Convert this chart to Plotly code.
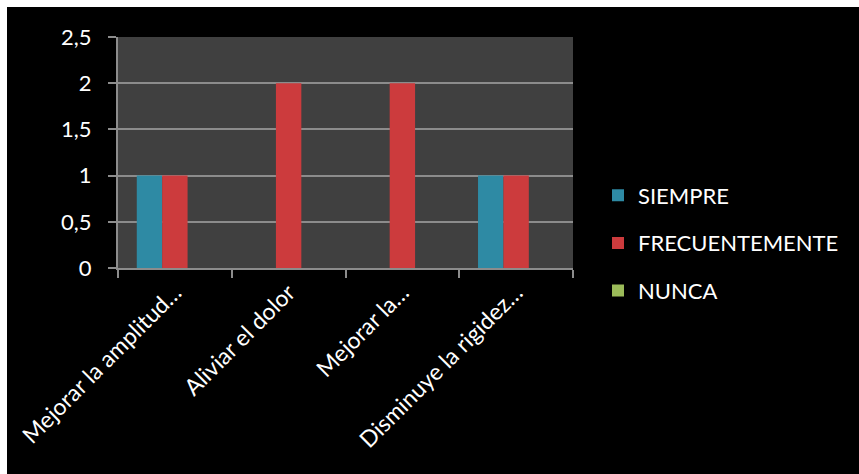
import plotly.graph_objects as go

categories = ["Mejorar la amplitud…", "Aliviar el dolor", "Mejorar la…", "Disminuye la rigidez…"]
siempre = [1, 0, 0, 1]
frecuentemente = [1, 2, 2, 1]
nunca = [0, 0, 0, 0]
series_names = ["SIEMPRE", "FRECUENTEMENTE", "NUNCA"]
series_colors = ["#2E8AA4", "#CC3B3D", "#9BBB59"]
y_ticks = [0, 0.5, 1, 1.5, 2, 2.5]
y_tick_labels = ["0", "0,5", "1", "1,5", "2", "2,5"]

W, H = 859, 474
L, R, T, B = 118, 286, 37, 206
PW, PH = W - L - R, H - T - B

fig = go.Figure()
for name, vals, col in zip(series_names, [siempre, frecuentemente, nunca], series_colors):
    fig.add_trace(go.Bar(
        x=categories, y=vals, name=name, legendgroup=name,
        marker=dict(color=col, line=dict(width=0)),
    ))

font_family = "Lato, 'Open Sans', sans-serif"
fig.update_layout(
    width=W, height=H,
    margin=dict(l=L, r=R, t=T, b=B, autoexpand=False),
    paper_bgcolor="black",
    plot_bgcolor="#404040",
    barmode="group",
    bargap=0.33,
    bargroupgap=0,
    font=dict(family=font_family, color="white", size=20),
    showlegend=True,
    legend=dict(
        x=(598 - L) / PW, xanchor="left",
        y=(H - B - 243) / PH, yanchor="middle",
        font=dict(size=22, color="white"),
        bgcolor="rgba(0,0,0,0)",
        tracegroupgap=16,
        itemwidth=30,
    ),
    xaxis=dict(
        type="category",
        tickangle=-45,
        tickson="boundaries",
        ticks="outside", ticklen=8, tickcolor="#8C8C8C", tickwidth=2,
        showline=True, linecolor="#8C8C8C", linewidth=2,
        showgrid=False,
        tickfont=dict(size=23, color="white"),
    ),
    yaxis=dict(
        range=[0, 2.5],
        tickvals=y_ticks, ticktext=y_tick_labels,
        ticks="outside", ticklen=8, tickcolor="#8C8C8C", tickwidth=2,
        showline=True, linecolor="#8C8C8C", linewidth=2,
        showgrid=True, gridcolor="#8C8C8C", gridwidth=2,
        zeroline=False,
        tickfont=dict(size=22, color="white"),
        ticklabelstandoff=12,
    ),
    shapes=[
        dict(type="rect", xref="paper", yref="paper",
             x0=-L / PW, x1=(7 - L) / PW, y0=-B / PH, y1=(PH + T) / PH,
             fillcolor="white", line=dict(width=0), layer="above"),
        dict(type="rect", xref="paper", yref="paper",
             x0=-L / PW, x1=(W - L) / PW, y0=(PH + T - 7) / PH, y1=(PH + T) / PH,
             fillcolor="white", line=dict(width=0), layer="above"),
    ],
)

fig.write_html("out.html")
